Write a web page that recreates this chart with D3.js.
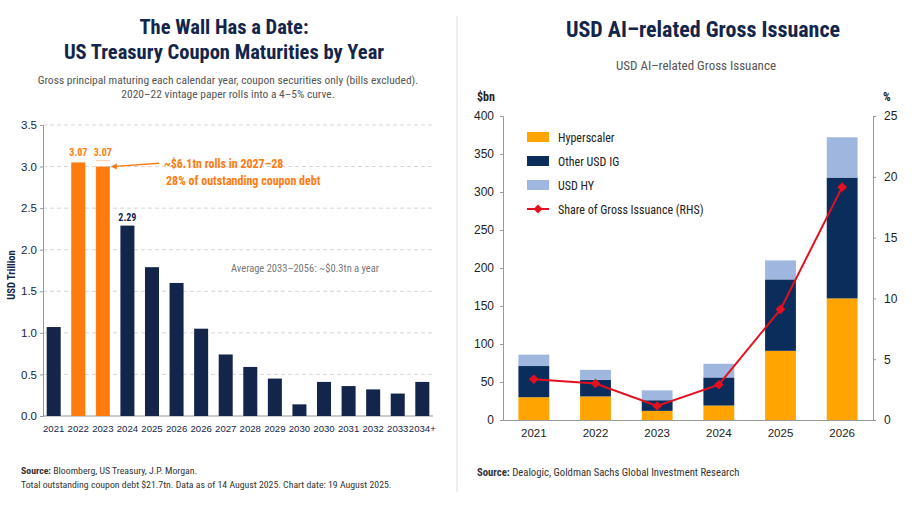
<!DOCTYPE html>
<html>
<head>
<meta charset="utf-8">
<script src="https://cdn.jsdelivr.net/npm/d3@7"></script>
<style>
  body { margin: 0; background: #fff; }
  svg { display: block; font-family: "Roboto Condensed", "Liberation Sans Narrow", Roboto, sans-serif; }
</style>
</head>
<body>
<svg id="chart"></svg>
<script>
// ---- left panel data: coupon maturities (USD tn)
const matYears = ["2021", "2022", "2023", "2024", "2025", "2026", "2026", "2027", "2028", "2029", "2030", "2030", "2031", "2032", "2033", "2034+"];
const matValues = [1.07, 3.05, 3.0, 2.29, 1.79, 1.6, 1.05, 0.74, 0.59, 0.45, 0.14, 0.41, 0.36, 0.32, 0.27, 0.41];
const matHighlight = [1, 2];
const matLabels = [
    { i: 1, value: 3.07, text: "3.07" },
    { i: 2, value: 3.07, text: "3.07" },
    { i: 3, value: 2.29, text: "2.29" },
];
const matTicks = [0, 0.5, 1, 1.5, 2, 2.5, 3, 3.5];

// ---- right panel data: AI-related gross issuance ($bn, % RHS)
const issYears = ["2021", "2022", "2023", "2024", "2025", "2026"];
const hyperscaler = [30, 31, 12, 19, 91, 160];
const otherIG = [41, 22, 14, 37, 94, 159];
const usdHY = [15, 13, 13, 18, 25, 53];
const shareRHS = [3.35, 3.0, 1.15, 2.9, 9.1, 19.15];
const issTicks = [0, 50, 100, 150, 200, 250, 300, 350, 400];
const shareTicks = [0, 5, 10, 15, 20, 25];

const W = 915, H = 515;
const navy = "#13254a";
const orange = "#ff7b0f";
const svg = d3.select("#chart").attr("width", W).attr("height", H);

svg.append("rect").attr("width", W).attr("height", H).attr("fill", "#fff");

// divider between the panels
svg.append("line")
    .attr("x1", 457).attr("x2", 457).attr("y1", 16).attr("y2", 492)
    .attr("stroke", "#dcdcdc").attr("stroke-width", 1);

drawLeft();
drawRight();

function drawLeft() {
    const g = svg.append("g");

    g.append("text").attr("x", 224).attr("y", 34)
        .attr("text-anchor", "middle").attr("font-size", 20.5).attr("font-weight", 700)
        .attr("fill", navy).text("The Wall Has a Date:");
    g.append("text").attr("x", 224).attr("y", 59)
        .attr("text-anchor", "middle").attr("font-size", 20.5).attr("font-weight", 700)
        .attr("fill", navy).text("US Treasury Coupon Maturities by Year");
    g.append("text").attr("x", 228).attr("y", 84)
        .attr("text-anchor", "middle").attr("font-size", 11.5).attr("fill", "#555")
        .text("Gross principal maturing each calendar year, coupon securities only (bills excluded).");
    g.append("text").attr("x", 228).attr("y", 98)
        .attr("text-anchor", "middle").attr("font-size", 11.5).attr("fill", "#555")
        .text("2020–22 vintage paper rolls into a 4–5% curve.");

    const x = d3.scaleBand()
        .domain(d3.range(matYears.length))
        .range([43, 433])
        .paddingInner(0.43)
        .paddingOuter(0.15);
    const y = d3.scaleLinear().domain([0, 3.5]).range([416, 125]);

    // dashed grid
    g.append("g").selectAll("line")
        .data(matTicks.filter((d) => d > 0))
        .join("line")
        .attr("x1", 43).attr("x2", 433)
        .attr("y1", (d) => y(d)).attr("y2", (d) => y(d))
        .attr("stroke", "#d6d6d6").attr("stroke-dasharray", "4,3");

    // y axis
    const ay = g.append("g").attr("transform", "translate(43,0)")
        .call(d3.axisLeft(y).tickValues(matTicks).tickFormat(d3.format(".1f")).tickSize(3));
    ay.select(".domain").attr("stroke", "#999");
    ay.selectAll(".tick line").attr("stroke", "#999");
    ay.selectAll("text").attr("font-size", 11.5).attr("fill", navy).attr("font-family", null);

    // x axis
    const ax = g.append("g").attr("transform", "translate(0,416)")
        .call(d3.axisBottom(x).tickFormat((i) => matYears[i]).tickSize(0).tickPadding(9));
    ax.select(".domain").attr("stroke", "#999").attr("d", "M43,0H433");
    ax.selectAll("text").attr("font-size", 9.6).attr("fill", navy).attr("font-family", null);

    g.append("text")
        .attr("transform", "translate(15,275) rotate(-90)")
        .attr("text-anchor", "middle").attr("font-size", 10.5).attr("font-weight", 700)
        .attr("fill", navy).text("USD Trillion");

    // bars
    g.append("g").selectAll("rect")
        .data(matValues)
        .join("rect")
        .attr("x", (d, i) => x(i))
        .attr("width", x.bandwidth())
        .attr("y", (d) => y(d))
        .attr("height", (d) => y(0) - y(d))
        .attr("fill", (d, i) => (matHighlight.includes(i) ? orange : navy));

    // faint reference tick above 2023 bar
    g.append("line")
        .attr("x1", x(2)).attr("x2", x(2) + x.bandwidth())
        .attr("y1", y(3.07)).attr("y2", y(3.07))
        .attr("stroke", "#f6c9a0").attr("stroke-width", 1);

    // value labels
    g.append("g").selectAll("text")
        .data(matLabels)
        .join("text")
        .attr("x", (d) => x(d.i) + x.bandwidth() / 2)
        .attr("y", (d) => y(d.value) - 5)
        .attr("text-anchor", "middle").attr("font-size", 10).attr("font-weight", 700)
        .attr("fill", (d) => (matHighlight.includes(d.i) ? orange : navy))
        .text((d) => d.text);

    // annotation arrow
    const ax2 = x(2) + x.bandwidth();
    g.append("line")
        .attr("x1", 159).attr("y1", y(3.04))
        .attr("x2", ax2 + 2).attr("y2", y(3.0))
        .attr("stroke", orange).attr("stroke-width", 1.3);
    g.append("path")
        .attr("d", `M${ax2 + 1},${y(3.0)} l6,-3 l0,6 z`)
        .attr("fill", orange);

    g.append("text").attr("x", 164).attr("y", 168)
        .attr("font-size", 12).attr("font-weight", 700).attr("fill", orange)
        .text("~$6.1tn rolls in 2027–28");
    g.append("text").attr("x", 166).attr("y", 185)
        .attr("font-size", 12).attr("font-weight", 700).attr("fill", orange)
        .text("28% of outstanding coupon debt");

    g.append("text").attr("x", 231).attr("y", 272)
        .attr("font-size", 10.5).attr("fill", "#777")
        .text("Average 2033–2056: ~$0.3tn a year");

    // footer
    const f1 = g.append("text").attr("x", 21).attr("y", 474).attr("font-size", 9.8).attr("fill", "#333");
    f1.append("tspan").attr("font-weight", 700).text("Source:");
    f1.append("tspan").text(" Bloomberg, US Treasury, J.P. Morgan.");
    g.append("text").attr("x", 21).attr("y", 488).attr("font-size", 9.8).attr("fill", "#333")
        .text("Total outstanding coupon debt $21.7tn. Data as of 14 August 2025. Chart date: 19 August 2025.");
}

function drawRight() {
    const g = svg.append("g");
    const cHyper = "#ffa400", cIG = "#0b2d5c", cHY = "#9fb7de", cLine = "#e5101f";

    g.append("text").attr("x", 703).attr("y", 37)
        .attr("text-anchor", "middle").attr("font-size", 22).attr("font-weight", 700)
        .attr("fill", navy).text("USD AI–related Gross Issuance");
    g.append("text").attr("x", 696).attr("y", 70)
        .attr("text-anchor", "middle").attr("font-size", 13).attr("fill", "#555")
        .text("USD AI–related Gross Issuance");

    g.append("text").attr("x", 477).attr("y", 101).attr("font-size", 12).attr("font-weight", 700)
        .attr("fill", "#222").text("$bn");
    g.append("text").attr("x", 883).attr("y", 101).attr("font-size", 12).attr("font-weight", 700)
        .attr("fill", "#222").text("%");

    const x = d3.scaleBand().domain(issYears).range([503, 873]).paddingInner(0.5).paddingOuter(0.25);
    const y = d3.scaleLinear().domain([0, 400]).range([420, 116]);
    const y2 = d3.scaleLinear().domain([0, 25]).range([420, 116]);

    const rows = issYears.map((yr, i) => ({
        year: yr,
        hyper: hyperscaler[i],
        ig: otherIG[i],
        hy: usdHY[i],
    }));
    const keys = ["hyper", "ig", "hy"];
    const colors = { hyper: cHyper, ig: cIG, hy: cHY };
    const series = d3.stack().keys(keys)(rows);

    g.append("g").selectAll("g")
        .data(series)
        .join("g")
        .attr("fill", (s) => colors[s.key])
        .selectAll("rect")
        .data((s) => s)
        .join("rect")
        .attr("x", (d) => x(d.data.year))
        .attr("width", x.bandwidth())
        .attr("y", (d) => y(d[1]))
        .attr("height", (d) => y(d[0]) - y(d[1]));

    const ay = g.append("g").attr("transform", "translate(503,0)")
        .call(d3.axisLeft(y).tickValues(issTicks).tickSize(3).tickPadding(6));
    ay.select(".domain").attr("stroke", "#999");
    ay.selectAll(".tick line").attr("stroke", "#999");
    ay.selectAll("text").attr("font-size", 12).attr("fill", "#222").attr("font-family", null);

    const ay2 = g.append("g").attr("transform", "translate(873,0)")
        .call(d3.axisRight(y2).tickValues(shareTicks).tickSize(3).tickPadding(8));
    ay2.select(".domain").attr("stroke", "#999");
    ay2.selectAll(".tick line").attr("stroke", "#999");
    ay2.selectAll("text").attr("font-size", 12).attr("fill", "#222").attr("font-family", null);

    const ax = g.append("g").attr("transform", "translate(0,420)")
        .call(d3.axisBottom(x).tickSize(0).tickPadding(9));
    ax.select(".domain").attr("stroke", "#999");
    ax.selectAll("text").attr("font-size", 11.5).attr("fill", "#222").attr("font-family", null);

    // share line
    const line = d3.line()
        .x((d, i) => x(issYears[i]) + x.bandwidth() / 2)
        .y((d) => y2(d));
    g.append("path").datum(shareRHS)
        .attr("d", line).attr("fill", "none")
        .attr("stroke", cLine).attr("stroke-width", 2);
    g.append("g").selectAll("path")
        .data(shareRHS)
        .join("path")
        .attr("d", d3.symbol(d3.symbolDiamond2, 60))
        .attr("transform", (d, i) => `translate(${x(issYears[i]) + x.bandwidth() / 2},${y2(d)})`)
        .attr("fill", cLine);

    // legend
    const legend = [
        { label: "Hyperscaler", type: "box", color: cHyper },
        { label: "Other USD IG", type: "box", color: cIG },
        { label: "USD HY", type: "box", color: cHY },
        { label: "Share of Gross Issuance (RHS)", type: "line", color: cLine },
    ];
    const lg = g.append("g").selectAll("g")
        .data(legend)
        .join("g")
        .attr("transform", (d, i) => `translate(527,${137 + i * 24})`);
    lg.filter((d) => d.type == "box").append("rect")
        .attr("x", 0).attr("y", -5).attr("width", 22).attr("height", 10)
        .attr("fill", (d) => d.color);
    lg.filter((d) => d.type == "line").append("line")
        .attr("x1", 0).attr("x2", 22).attr("stroke", (d) => d.color).attr("stroke-width", 2);
    lg.filter((d) => d.type == "line").append("path")
        .attr("d", d3.symbol(d3.symbolDiamond2, 50))
        .attr("transform", "translate(11,0)")
        .attr("fill", (d) => d.color);
    lg.append("text").attr("x", 31).attr("y", 4.5)
        .attr("font-size", 12).attr("fill", "#222")
        .text((d) => d.label);

    const f = g.append("text").attr("x", 477).attr("y", 476).attr("font-size", 10.7).attr("fill", "#333");
    f.append("tspan").attr("font-weight", 700).text("Source:");
    f.append("tspan").text(" Dealogic, Goldman Sachs Global Investment Research");
}
</script>
</body>
</html>
